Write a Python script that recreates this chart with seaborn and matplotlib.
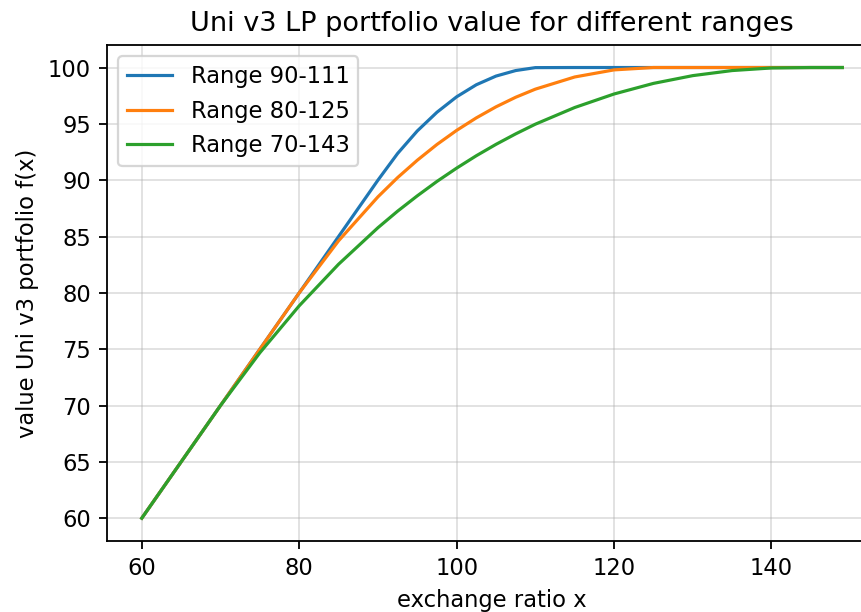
import pandas as pd
import matplotlib
matplotlib.use('Agg')
import matplotlib.pyplot as plt
import seaborn as sb

# exchange ratio x (shared by all three ranges)
x_vals = [60, 65, 70, 75, 80, 85, 90, 92.5, 95, 97.5, 100, 102.5, 105, 107.5,
          110, 115, 120, 125, 130, 135, 140, 145, 149]

# portfolio value
range_90_111 = [60.0, 65.0, 70.0, 75.0, 80.0, 85.0, 90.0, 92.37, 94.37, 96.03,
                97.40, 98.47, 99.24, 99.73, 99.99, 100.0, 100.0, 100.0, 100.0,
                100.0, 100.0, 100.0, 100.0]
range_80_125 = [60.0, 65.0, 70.0, 75.0, 80.0, 84.62, 88.52, 90.23, 91.77, 93.17,
                94.42, 95.53, 96.51, 97.36, 98.08, 99.16, 99.79, 100.0, 100.0,
                100.0, 100.0, 100.0, 100.0]
range_70_143 = [60.0, 65.0, 70.0, 74.68, 78.85, 82.54, 85.78, 87.25, 88.61, 89.89,
                91.07, 92.17, 93.18, 94.11, 94.97, 96.45, 97.65, 98.59, 99.28,
                99.73, 99.96, 100.0, 100.0]

labels = ['Range 90-111', 'Range 80-125', 'Range 70-143']
series = [range_90_111, range_80_125, range_70_143]

rows = []
for lab, ys in zip(labels, series):
    for xv, yv in zip(x_vals, ys):
        rows.append({'x': xv, 'value': yv, 'range': lab})
df = pd.DataFrame(rows)

DPI = 163
fig = plt.figure(figsize=(861 / DPI, 612 / DPI), dpi=DPI)
ax = fig.add_axes([0.124, 0.1165, 0.895, 0.81])

sb.lineplot(data=df, x='x', y='value', hue='range', hue_order=labels,
            palette=['#1f77b4', '#ff7f0e', '#2ca02c'], linewidth=1.4, ax=ax)

ax.grid(True, color='#b0b0b0', alpha=0.4, linewidth=0.8)
ax.set_axisbelow(True)
ax.set_xlim(55.55, 153.45)
ax.set_ylim(58, 102)
ax.set_yticks(range(60, 101, 5))
ax.set_xticks(range(60, 141, 20))
ax.set_xlabel('exchange ratio x')
ax.set_ylabel('value Uni v3 portfolio f(x)')
ax.set_title('Uni v3 LP portfolio value for different ranges')
ax.legend(loc='upper left')

fig.savefig('out.png', dpi=DPI)
